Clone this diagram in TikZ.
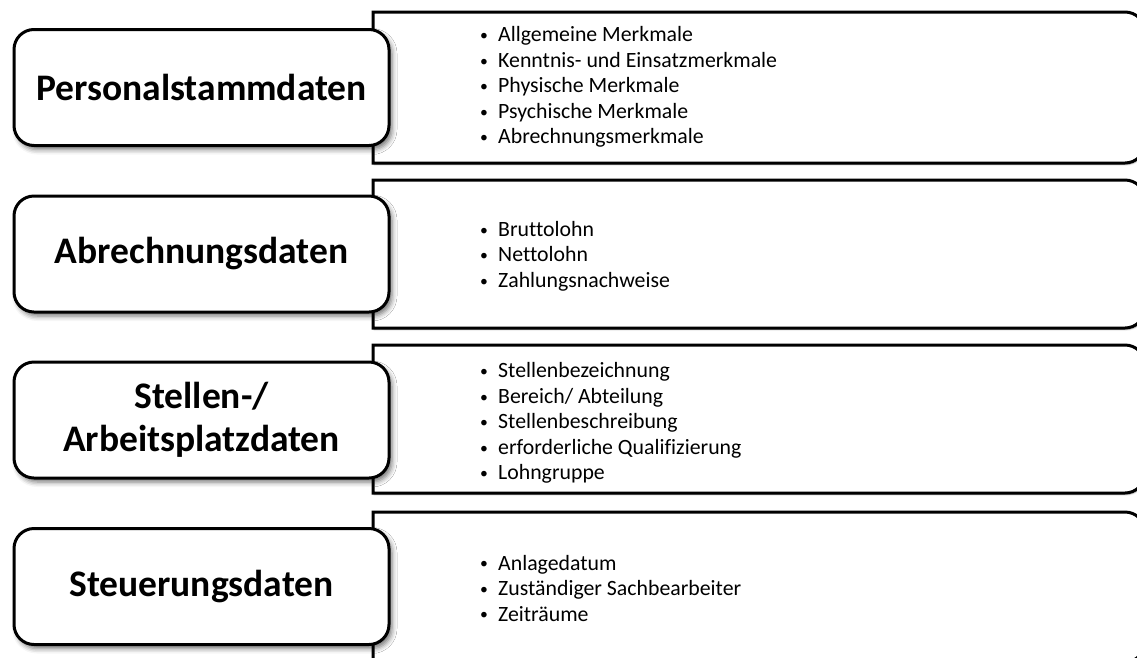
\documentclass[tikz,border=0pt]{standalone}
\usepackage{fontspec}
\setmainfont{Carlito}[Ligatures=NoCommon]
\usetikzlibrary{shadows.blur}

% one bullet line of a list
\newcommand\itm[1]{\makebox[18pt][l]{\raisebox{0.1ex}{\scalebox{0.72}{\textbullet}}}#1}
% list frame: square left corners, rounded right corners; #1 top, #2 bottom
\newcommand\listframe[2]{%
  \path[listbox] (373,-#1) -- (1125,-#1)
    arc[start angle=90,end angle=0,radius=20] -- (1145,{-#2+20})
    arc[start angle=0,end angle=-90,radius=20] -- (373,-#2) -- cycle;}

\begin{document}
\begin{tikzpicture}[x=1pt,y=1pt,
  labelbox/.style={draw=black, line width=3pt, fill=white, rounded corners=20pt,
    minimum width=375pt, minimum height=116pt, inner sep=0pt, align=center,
    font=\fontsize{37.5}{43}\selectfont\bfseries,
    blur shadow={shadow xshift=3pt, shadow yshift=-4pt, shadow blur radius=5pt, shadow opacity=55}},
  listbox/.style={draw=black, line width=3pt, fill=white,
    blur shadow={shadow xshift=1pt, shadow yshift=-1.5pt, shadow blur radius=1.5pt, shadow opacity=40}},
  itemlist/.style={anchor=west, align=left, inner sep=0pt,
    font=\fontsize{21.8}{25.5}\selectfont}]
\useasboundingbox (0,0) rectangle (1137,-657);
\clip (0,0) rectangle (1137,-657);

% list frames
\listframe{12}{163}
\listframe{180}{328}
\listframe{345}{493}
\listframe{512}{662}

% list contents
\node[itemlist] (list1) at (480,-87) {\itm{Allgemeine Merkmale}\\\itm{Kenntnis- und Einsatzmerkmale}\\\itm{Physische Merkmale}\\\itm{Psychische Merkmale}\\\itm{Abrechnungsmerkmale}};
\node[itemlist] (list2) at (480,-256) {\itm{Bruttolohn}\\\itm{Nettolohn}\\\itm{Zahlungsnachweise}};
\node[itemlist] (list3) at (480,-423) {\itm{Stellenbezeichnung}\\\itm{Bereich/ Abteilung}\\\itm{Stellenbeschreibung}\\\itm{erforderliche Qualifizierung}\\\itm{Lohngruppe}};
\node[itemlist] (list4) at (480,-588) {\itm{Anlagedatum}\\\itm{Zuständiger Sachbearbeiter}\\\itm{Zeiträume}};

% category boxes
\node[labelbox] (cat1) at (201.5,-87.5) {Personalstammdaten};
\node[labelbox] (cat2) at (201.5,-254) {Abrechnungsdaten};
\node[labelbox] (cat3) at (201.5,-420) {Stellen-/\\Arbeitsplatzdaten};
\node[labelbox] (cat4) at (201.5,-586.5) {Steuerungsdaten};
\end{tikzpicture}
\end{document}
